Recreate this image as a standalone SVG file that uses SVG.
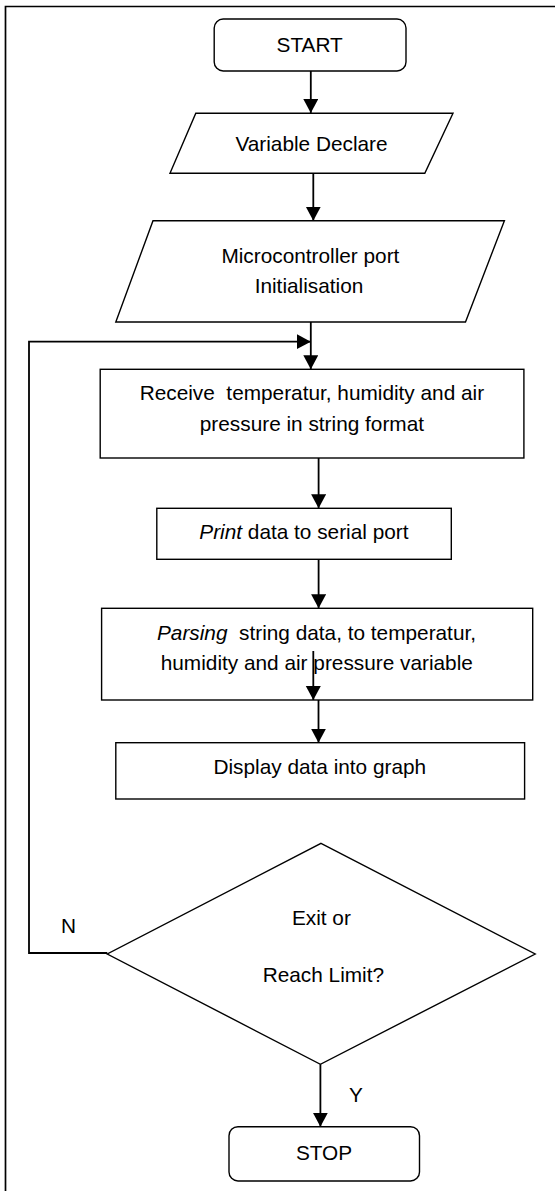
<svg xmlns="http://www.w3.org/2000/svg" width="555" height="1191" viewBox="0 0 555 1191">
<style>
  .box { fill: #fff; stroke: #000; stroke-width: 1.4; }
  .ln { fill: none; stroke: #000; stroke-width: 1.8; }
  .frame { fill: none; stroke: #000; stroke-width: 1.7; }
  text { font-family: "Liberation Sans", Arial, sans-serif; font-size: 20.8px; fill: #000; text-anchor: middle; }
  .it { font-style: italic; }
</style>
<defs>
  <marker id="arr" markerUnits="userSpaceOnUse" markerWidth="16" markerHeight="16" refX="14" refY="7.5" orient="auto">
    <path d="M0,0 L14,7.5 L0,15 z" fill="#000"/>
  </marker>
</defs>
<rect width="555" height="1191" fill="#fff"/>
<g id="frame">
  <path class="frame" d="M5.5,1191 V6.5 H555"/>
</g>
<g id="connectors">
  <line class="ln" x1="310.8" y1="71" x2="310.8" y2="113" marker-end="url(#arr)"/>
  <line class="ln" x1="313.3" y1="173.3" x2="313.3" y2="220.7" marker-end="url(#arr)"/>
  <line class="ln" x1="310.8" y1="322" x2="310.8" y2="369.3" marker-end="url(#arr)"/>
  <polyline class="ln" points="107.3,953 29,953 29,341.7 310.8,341.7" marker-end="url(#arr)"/>
  <line class="ln" x1="318.6" y1="458" x2="318.6" y2="508.3" marker-end="url(#arr)"/>
  <line class="ln" x1="318.6" y1="559.3" x2="318.6" y2="608.3" marker-end="url(#arr)"/>
  <line class="ln" x1="318.5" y1="700" x2="318.5" y2="742.7" marker-end="url(#arr)"/>
  <line class="ln" x1="320.4" y1="1064.3" x2="320.4" y2="1126.7" marker-end="url(#arr)"/>
</g>
<g id="start">
  <rect class="box" x="214.2" y="19" width="191.8" height="52" rx="9"/>
  <text x="309.7" y="52.3">START</text>
</g>
<g id="variable-declare">
  <polygon class="box" points="195.8,113.3 453,113.3 424.8,173.3 170,173.3"/>
  <text x="311.5" y="150.7">Variable Declare</text>
</g>
<g id="port-init">
  <polygon class="box" points="153,220.7 504.4,220.7 465.5,322 115.8,322"/>
  <text x="310.4" y="263.3">Microcontroller port</text>
  <text x="309" y="293.3">Initialisation</text>
</g>
<g id="receive">
  <rect class="box" x="100.2" y="369.3" width="423.7" height="88.7"/>
  <text x="311.9" y="400" xml:space="preserve">Receive  temperatur, humidity and air</text>
  <text x="311.9" y="430.7">pressure in string format</text>
</g>
<g id="print">
  <rect class="box" x="156.8" y="508.3" width="294.5" height="51"/>
  <text x="303.9" y="539.3"><tspan class="it">Print</tspan> data to serial port</text>
</g>
<g id="parsing">
  <rect class="box" x="101.6" y="608.3" width="431.1" height="91.7"/>
  <text x="316.5" y="640" xml:space="preserve"><tspan class="it">Parsing</tspan>  string data, to temperatur,</text>
  <text x="316.8" y="670">humidity and air pressure variable</text>
  <line class="ln" x1="313.3" y1="651" x2="313.3" y2="700" marker-end="url(#arr)"/>
</g>
<g id="display">
  <rect class="box" x="115.8" y="742.7" width="408.8" height="56.3"/>
  <text x="319.8" y="774">Display data into graph</text>
</g>
<g id="decision">
  <polygon class="box" points="321,843.3 535.2,954 320.4,1064.3 107.3,954"/>
  <text x="321.4" y="925">Exit or</text>
  <text x="323.4" y="981.7">Reach Limit?</text>
</g>
<g id="labels">
  <text x="68.5" y="933.3">N</text>
  <text x="356" y="1101.7">Y</text>
</g>
<g id="stop">
  <rect class="box" x="229" y="1126.7" width="190.5" height="54.3" rx="9"/>
  <text x="324" y="1160">STOP</text>
</g>
</svg>
